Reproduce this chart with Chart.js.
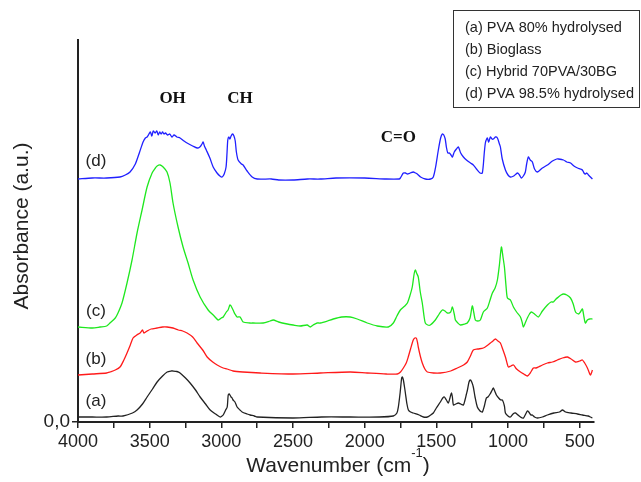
<!DOCTYPE html>
<html>
<head>
<meta charset="utf-8">
<script src="https://cdn.jsdelivr.net/npm/chart.js@4/dist/chart.umd.min.js"></script>
<style>
html,body{margin:0;padding:0;background:#fff;}
canvas{display:block;}
</style>
</head>
<body>
<canvas id="c" width="641" height="482"></canvas>
<script>
// ---- data (wavenumber in cm-1, absorbance in arbitrary offset units) ----
const seriesLabels = ["(a) PVA 80% hydrolysed", "(b) Bioglass", "(c) Hybrid 70PVA/30BG", "(d) PVA 98.5% hydrolysed"];
const curveTags = ["(a)", "(b)", "(c)", "(d)"];
const xTickValues = [4000,3750,3500,3250,3000,2750,2500,2250,2000,1750,1500,1250,1000,750,500];

const waveA = [4000,3900,3800,3720,3686,3620,3588,3550,3518,3480,3448,3410,3378,3350,3337,3310,3288,3250,3218,3180,3148,3110,3078,3040,3009,2995,2987,2970,2959,2952,2945,2940,2932,2925,2918,2905,2890,2870,2855,2820,2799,2770,2750,2500,2300,2100,1900,1800,1775,1765,1752,1742,1737,1730,1722,1716,1705,1695,1680,1661,1620,1590,1563,1540,1521,1500,1472,1455,1444,1430,1416,1405,1395,1388,1381,1365,1346,1330,1311,1300,1290,1283,1272,1263,1253,1242,1230,1214,1195,1179,1165,1151,1140,1125,1110,1102,1090,1081,1065,1050,1039,1025,1018,1000,983,965,948,930,913,900,892,880,865,855,840,830,815,795,760,725,680,640,620,599,560,515,480,440,425,411];
const absA  = [5,5,5,6,6,9,12,18,25,33,40,46,50,51,51,50.5,49,44,39,32,25,18,12,8,5,6,7,12,15,27,28,27,25,24,22,20,15,12,10,8,7,6,5,4,5,5,5,6,9,15,30,44,45,42,35,29,18,12,10,9,7,5,5,7,9,14,20,24,25,22,19,24,29,25,17,18,19,18,17,22,28,32,40,42,40,35,25,15,11,10,16,24,25,28,32,34,30,27,24,22,22,16,9,6,5,8,9,7,5,4,4,7,11,10,7,7,5,4,5,7,9,10,12,10,9,8,7,6,5,4];

const waveB = [4000,3900,3800,3777,3740,3707,3680,3658,3635,3616,3590,3567,3550,3540,3518,3490,3448,3410,3379,3337,3300,3270,3239,3200,3169,3130,3099,3060,3029,2987,2960,2918,2850,2729,2500,2310,2100,1982,1850,1772,1750,1730,1710,1696,1680,1661,1650,1640,1632,1626,1612,1598,1580,1563,1520,1472,1400,1353,1310,1284,1262,1242,1210,1172,1140,1123,1105,1088,1070,1053,1035,1018,1005,997,980,962,940,913,890,865,845,823,805,788,760,725,690,655,620,585,560,529,500,481,465,446,435,425,418,411];
const absB  = [47,48,49,50,52,55,62,69,77,84,87,89,92,89,91,93,94,95,95,94,92,91,89,85,79,72,65,60,57,54,53,51,50,49,48,49,50,49,48,48,50,54,59,65,73,82,84,84,80,75,66,59,53,50,49,49,51,54,57,60,66,72,73,74,77,79,81,83,81,79,72,65,58,55,56,57,53,50,48,46,49,54,54,55,57,59,60,62,64,65,63,60,61,62,59,54,50,47,49,52];

const waveC = [4000,3900,3846,3800,3777,3740,3721,3693,3658,3623,3588,3553,3518,3483,3460,3448,3427,3406,3379,3358,3337,3302,3267,3232,3197,3148,3092,3050,3022,3000,2987,2965,2953,2940,2932,2918,2905,2890,2869,2848,2800,2778,2708,2660,2638,2600,2540,2499,2450,2401,2380,2359,2331,2310,2260,2219,2160,2101,2052,1982,1912,1835,1800,1775,1751,1720,1702,1685,1668,1655,1647,1638,1626,1612,1598,1585,1577,1560,1542,1507,1480,1458,1440,1423,1400,1388,1375,1367,1350,1332,1300,1284,1265,1249,1238,1228,1210,1193,1172,1144,1125,1109,1090,1074,1060,1046,1035,1025,1012,1004,983,962,940,913,900,893,880,865,850,837,815,788,760,725,700,683,665,648,630,613,590,564,545,529,508,495,481,470,460,446,430,411];
const absC  = [95,94,95,96,99,104,109,119,139,162,189,212,235,249,254,256,257,255,250,239,219,195,175,159,142,125,112,106,102,104,105,110,112,117,116,112,108,105,105,100,99,99,99,101,102,100,98,97,96,97,95,97,99,99,101,103,105,105,103,99,96,95,99,106,112,116,119,126,135,148,152,149,145,130,119,105,99,97,97,102,108,112,111,109,110,115,108,102,99,97,98,99,104,116,109,102,101,102,110,114,122,129,134,142,157,175,165,155,133,124,122,115,110,105,99,95,99,104,108,110,108,105,111,117,120,120,123,125,127,128,127,124,118,110,108,110,113,105,99,102,103,103];

const waveD = [4000,3900,3800,3707,3670,3637,3600,3570,3546,3530,3518,3505,3495,3485,3475,3462,3450,3440,3430,3420,3410,3400,3390,3375,3360,3345,3330,3310,3288,3260,3239,3200,3169,3150,3135,3127,3118,3105,3080,3057,3030,3010,2994,2980,2967,2960,2955,2948,2940,2932,2922,2912,2903,2895,2883,2860,2848,2820,2785,2750,2650,2600,2500,2400,2310,2200,2000,1850,1760,1751,1730,1715,1702,1682,1661,1645,1633,1610,1577,1540,1521,1505,1486,1470,1458,1448,1438,1430,1420,1409,1398,1388,1375,1360,1346,1330,1311,1290,1262,1242,1220,1195,1179,1165,1158,1152,1144,1135,1123,1112,1102,1088,1074,1060,1053,1040,1018,1000,983,960,934,920,907,893,879,870,858,845,830,815,795,760,725,690,660,648,613,590,564,540,515,495,481,470,460,450,439,425,411];
const absD  = [243,244,244,245,247,250,258,270,280,284,285,288,290,286,291,289,291,287,290,288,290,288,289,287,288,285,287,285,284,281,279,276,274,275,278,280,276,272,264,255,249,246,245,248,255,270,282,285,283,286,288,286,281,270,262,258,257,251,245,243,243,242,242,243,243,244,244,243,243,244,249,249,248,249,250,249,248,245,243,243,245,255,272,284,288,287,283,275,269,269,267,265,270,273,275,269,265,262,259,257,253,249,249,270,279,282,284,280,285,283,283,285,284,278,275,263,252,247,245,246,249,247,244,246,250,258,265,262,260,253,250,254,257,261,263,263,262,260,259,256,254,253,252,249,248,249,247,245,243];

const seriesColors = ["#222222", "#ff1a1a", "#1ee81e", "#2020ff"];

function pts(w, a) { return w.map((x, i) => ({x: x, y: a[i]})); }

const datasets = [
  {label: seriesLabels[0], data: pts(waveA, absA), borderColor: seriesColors[0]},
  {label: seriesLabels[1], data: pts(waveB, absB), borderColor: seriesColors[1]},
  {label: seriesLabels[2], data: pts(waveC, absC), borderColor: seriesColors[2]},
  {label: seriesLabels[3], data: pts(waveD, absD), borderColor: seriesColors[3]}
];

const FONT_SANS = '"Liberation Sans", Arial, sans-serif';
const FONT_SERIF = '"Liberation Serif", "Times New Roman", serif';

const decor = {
  id: 'decor',
  afterDraw(chart) {
    const ctx = chart.ctx;
    const xs = chart.scales.x;
    ctx.save();
    ctx.fillStyle = '#222';
    // x title with superscript
    ctx.font = '21px ' + FONT_SANS;
    const main = 'Wavenumber (cm';
    const sup = '-1';
    const close = ')';
    const wMain = ctx.measureText(main).width;
    const wClose = ctx.measureText(close).width;
    ctx.font = '13px ' + FONT_SANS;
    const wSup = ctx.measureText(sup).width;
    const total = wMain + wSup + wClose;
    const x0 = (xs.left + xs.right) / 2 - total / 2 + 2;
    const yT = 466;
    ctx.textBaseline = 'middle';
    ctx.textAlign = 'left';
    ctx.font = '21px ' + FONT_SANS;
    ctx.fillText(main, x0, yT);
    ctx.font = '13px ' + FONT_SANS;
    ctx.fillText(sup, x0 + wMain, yT - 13);
    ctx.font = '21px ' + FONT_SANS;
    ctx.fillText(close, x0 + wMain + wSup, yT);
    // y title
    ctx.save();
    ctx.translate(22, 226);
    ctx.rotate(-Math.PI / 2);
    ctx.textAlign = 'center';
    ctx.font = '21px ' + FONT_SANS;
    ctx.fillText('Absorbance (a.u.)', 0, 0);
    ctx.restore();
    // curve tags
    ctx.font = '17px ' + FONT_SANS;
    ctx.textAlign = 'center';
    const tagY = [401, 359, 311, 161];
    curveTags.forEach((t, i) => ctx.fillText(t, 96, tagY[i]));
    // band annotations
    ctx.font = 'bold 17px ' + FONT_SERIF;
    ctx.fillStyle = '#111';
    ctx.fillText('OH', xs.getPixelForValue(3340), 99);
    ctx.fillText('CH', xs.getPixelForValue(2870), 99);
    ctx.fillText('C=O', xs.getPixelForValue(1765), 138);
    // legend box
    ctx.strokeStyle = '#333';
    ctx.lineWidth = 1;
    ctx.strokeRect(453.5, 10.5, 186, 97);
    ctx.font = '14.5px ' + FONT_SANS;
    ctx.textAlign = 'left';
    ctx.fillStyle = '#222';
    seriesLabels.forEach((t, i) => ctx.fillText(t, 465, 28 + i * 22));
    ctx.restore();
  }
};

new Chart(document.getElementById('c').getContext('2d'), {
  type: 'line',
  data: {datasets: datasets},
  options: {
    responsive: false,
    animation: false,
    devicePixelRatio: 1,
    layout: {padding: {top: 40, right: 47, left: 0, bottom: 0}},
    plugins: {legend: {display: false}, tooltip: {enabled: false}},
    elements: {point: {radius: 0}, line: {borderWidth: 1.3, tension: 0.25, fill: false}},
    scales: {
      x: {
        type: 'linear', reverse: true, min: 400, max: 4000,
        afterBuildTicks: s => { s.ticks = xTickValues.map(v => ({value: v})); },
        afterFit: s => { s.height = 60; },
        ticks: {autoSkip: false, maxRotation: 0, padding: 3, color: '#222',
          font: {family: FONT_SANS, size: 18},
          callback: v => (v % 500 === 0 ? String(v) : '')},
        grid: {drawOnChartArea: false, drawTicks: true, tickLength: 6, color: '#222', lineWidth: 1.5},
        border: {display: true, color: '#222', width: 2}
      },
      y: {
        min: 0, max: 382,
        afterBuildTicks: s => { s.ticks = [{value: 0}]; },
        afterFit: s => { s.width = 78; },
        ticks: {padding: 2, color: '#222', font: {family: FONT_SANS, size: 19},
          callback: () => '0,0'},
        grid: {drawOnChartArea: false, drawTicks: true, tickLength: 6, color: '#222', lineWidth: 1.5},
        border: {display: true, color: '#222', width: 2}
      }
    }
  },
  plugins: [decor]
});
</script>
</body>
</html>
